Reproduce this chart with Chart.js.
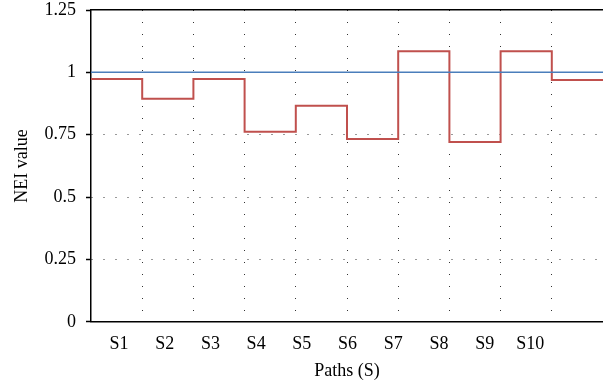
<!DOCTYPE html>
<html>
<head>
<meta charset="utf-8">
<script src="https://cdn.jsdelivr.net/npm/chart.js@4"></script>
<style>
    body { margin: 0; background: #fff; }
    #chart { display: block; }
</style>
</head>
<body>
<canvas id="chart" width="603" height="385"></canvas>
<script>
// Data
const pathLabels = ['S1', 'S2', 'S3', 'S4', 'S5', 'S6', 'S7', 'S8', 'S9', 'S10'];
const neiValues = [0.973, 0.894, 0.973, 0.762, 0.866, 0.733, 1.085, 0.721, 1.085, 0.969];
const referenceValue = 1;
const yTicks = [0, 0.25, 0.5, 0.75, 1, 1.25];

const FONT = { family: "'Liberation Serif', 'DejaVu Serif', serif", size: 18 };

// step points: each path holds its value over one unit
const stepPoints = neiValues.map((v, i) => ({ x: i, y: v }));
stepPoints.push({ x: neiValues.length, y: neiValues[neiValues.length - 1] });

const ctx = document.getElementById('chart').getContext('2d');

new Chart(ctx, {
    type: 'line',
    data: {
        datasets: [
            {
                data: [{ x: 0, y: referenceValue }, { x: neiValues.length, y: referenceValue }],
                borderColor: '#4a7ebb',
                borderWidth: 1.5,
                pointRadius: 0,
                fill: false
            },
            {
                data: stepPoints,
                stepped: 'before',
                borderColor: '#c0504d',
                borderWidth: 2,
                pointRadius: 0,
                fill: false
            }
        ]
    },
    options: {
        responsive: false,
        animation: false,
        events: [],
        layout: { padding: { top: 0, right: 0, left: 0, bottom: 0 } },
        plugins: {
            legend: { display: false },
            tooltip: { enabled: false }
        },
        scales: {
            // grid axis (vertical dotted lines between paths)
            x: {
                type: 'linear',
                position: 'bottom',
                weight: 0,
                min: 0,
                max: neiValues.length,
                ticks: { display: false, stepSize: 1 },
                grid: {
                    drawTicks: false,
                    lineWidth: 1,
                    color: c => (c.tick && c.tick.value > 0 && c.tick.value < neiValues.length) ? '#333' : 'rgba(0,0,0,0)'
                },
                border: { display: true, color: '#000', width: 1.5, dash: [1, 11] }
            },
            // label axis (path names)
            xLabels: {
                type: 'linear',
                position: 'bottom',
                weight: 1,
                min: 0.387,
                max: 11.59,
                afterBuildTicks: s => {
                    s.ticks = pathLabels.map((_, i) => ({ value: i + 1 }));
                },
                ticks: {
                    autoSkip: false,
                    maxRotation: 0,
                    padding: 4,
                    color: '#000',
                    font: FONT,
                    callback: v => pathLabels[v - 1]
                },
                grid: { display: false },
                border: { display: false },
                title: {
                    display: true,
                    text: 'Paths (S)',
                    color: '#000',
                    font: FONT,
                    padding: { top: 1, bottom: 3 }
                }
            },
            // top frame line
            xTop: {
                type: 'linear',
                position: 'top',
                display: true,
                min: 0,
                max: neiValues.length,
                ticks: { display: false },
                grid: { display: false, drawTicks: false },
                border: { display: true, color: '#000', width: 1.5 },
                afterFit: s => { s.height = 0; }
            },
            y: {
                min: 0,
                max: 1.25,
                afterBuildTicks: s => {
                    s.ticks = yTicks.map(v => ({ value: v }));
                },
                afterFit: s => {
                    s.width = 91;
                    s.paddingTop = 10;
                },
                ticks: {
                    padding: 10,
                    color: '#000',
                    font: FONT,
                    callback: v => String(v)
                },
                grid: {
                    drawTicks: true,
                    tickLength: 5,
                    tickColor: '#000',
                    tickWidth: 1.5,
                    tickBorderDash: [],
                    lineWidth: 1,
                    color: c => (c.tick && c.tick.value > 0 && c.tick.value < 1) ? '#333' : 'rgba(0,0,0,0)'
                },
                border: { display: true, color: '#000', width: 1.5, dash: [1, 11] },
                title: {
                    display: true,
                    text: 'NEI value',
                    color: '#000',
                    font: FONT,
                    padding: { top: 11, bottom: 0 }
                }
            }
        }
    }
});
</script>
</body>
</html>
